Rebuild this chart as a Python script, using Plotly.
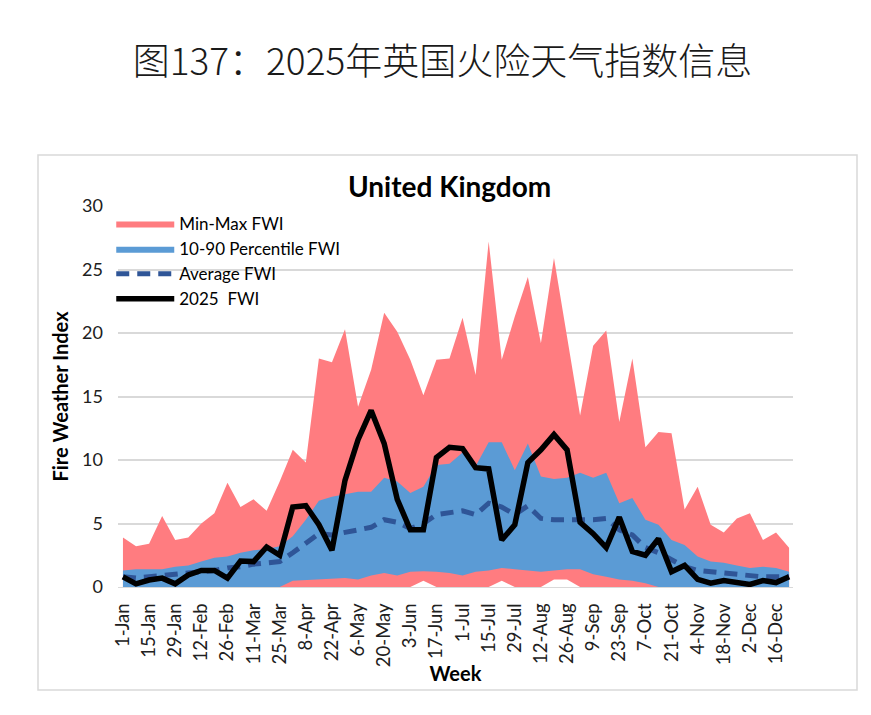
import plotly.graph_objects as go

weeks = ["1-Jan","8-Jan","15-Jan","22-Jan","29-Jan","5-Feb","12-Feb","19-Feb","26-Feb","4-Mar",
         "11-Mar","18-Mar","25-Mar","1-Apr","8-Apr","15-Apr","22-Apr","29-Apr","6-May","13-May",
         "20-May","27-May","3-Jun","10-Jun","17-Jun","24-Jun","1-Jul","8-Jul","15-Jul","22-Jul",
         "29-Jul","5-Aug","12-Aug","19-Aug","26-Aug","2-Sep","9-Sep","16-Sep","23-Sep","30-Sep",
         "7-Oct","14-Oct","21-Oct","28-Oct","4-Nov","11-Nov","18-Nov","25-Nov","2-Dec","9-Dec",
         "16-Dec","23-Dec"]

fwi_min = [0,0,0,0,0,0,0,0,0,0, 0,0,0,0,0,0,0,0,0,0, 0,0,0,0.5,0,0,0,0,0,0.5,
           0,0,0,0.6,0.6,0,0,0,0,0, 0,0,0,0,0,0,0,0,0,0, 0,0]
fwi_max = [3.9,3.2,3.4,5.6,3.7,3.9,5.0,5.8,8.2,6.3, 6.9,6.0,8.3,10.8,9.8,18.0,17.7,20.3,14.2,17.1,
           21.6,20.1,17.9,15.1,17.9,18.0,21.2,16.7,27.2,17.9, 21.3,24.4,19.2,25.9,19.7,13.5,19.0,20.2,13.0,18.0,
           11.0,12.2,12.1,6.1,7.9,4.9,4.3,5.4,5.8,3.7, 4.3,3.1]
p10 = [0,0,0,0,0,0,0,0,0,0, 0,0,0,0.5,0.55,0.55,0.6,0.7,0.6,0.9,
       1.1,0.9,1.2,1.25,1.2,1.1,0.9,1.2,1.3,1.5, 1.4,1.3,1.2,1.3,1.4,1.4,1.0,0.8,0.6,0.5,
       0.3,0,0,0,0,0,0,0,0,0, 0,0]
p90 = [1.3,1.4,1.4,1.4,1.6,1.7,2.0,2.3,2.4,2.7, 2.9,3.0,3.2,4.0,5.3,6.8,7.1,7.3,7.5,7.5,
       8.6,8.3,7.4,7.9,9.6,9.7,10.6,9.5,11.4,11.4, 9.2,11.3,8.7,8.5,8.6,9.0,8.6,9.0,6.6,7.0,
       5.3,4.9,3.7,3.3,2.4,2.0,1.9,1.7,1.5,1.6, 1.5,1.2]
avg = [0.8,0.7,0.8,0.9,1.0,1.1,1.2,1.3,1.5,1.6, 1.8,1.9,2.0,2.7,3.5,4.2,4.1,4.3,4.5,4.7,
       5.3,5.1,4.6,5.0,5.7,5.9,6.0,5.7,6.6,6.3, 5.7,6.4,5.4,5.3,5.3,5.3,5.3,5.4,4.5,4.1,
       3.1,2.7,2.1,1.6,1.3,1.2,1.1,1.0,0.9,0.8, 0.8,0.8]
fwi_2025 = [0.8,0.25,0.55,0.7,0.25,0.95,1.3,1.3,0.7,2.05, 2.0,3.15,2.5,6.3,6.4,4.9,2.9,8.4,11.6,13.9,
            11.3,6.9,4.5,4.5,10.2,11.0,10.9,9.4,9.3,3.7, 4.9,9.8,10.8,12.0,10.8,5.1,4.2,3.1,5.5,2.8,
            2.5,3.8,1.2,1.7,0.6,0.3,0.5,0.4,0.2,0.5, 0.35,0.8]

y_ticks = [0, 5, 10, 15, 20, 25, 30]

x = list(range(len(weeks)))
PINK = "#FF7C80"
BLUE = "#5B9BD5"
FONT = "Lato"

fig = go.Figure()
fig.add_trace(go.Scatter(x=x, y=fwi_min, mode="lines", line=dict(width=0, color=PINK),
                         showlegend=False, hoverinfo="skip"))
fig.add_trace(go.Scatter(x=x, y=fwi_max, mode="lines", line=dict(width=0, color=PINK),
                         fill="tonexty", fillcolor=PINK, name="Min-Max FWI"))
fig.add_trace(go.Scatter(x=x, y=p10, mode="lines", line=dict(width=0, color=BLUE),
                         showlegend=False, hoverinfo="skip"))
fig.add_trace(go.Scatter(x=x, y=p90, mode="lines", line=dict(width=0, color=BLUE),
                         fill="tonexty", fillcolor=BLUE, name="10-90 Percentile FWI"))
fig.add_trace(go.Scatter(x=x, y=avg, mode="lines", line=dict(width=5, color="#2F5597", dash="13px,8px"),
                         name="Average FWI"))
fig.add_trace(go.Scatter(x=x, y=fwi_2025, mode="lines", line=dict(width=5.5, color="#000000"),
                         name="2025  FWI"))

L, R, T, B = 118, 78, 206, 128
W, H = 871, 715
pw, ph = W - L - R, H - T - B

def px(xp):
    return (xp - L) / pw

def py(yp):
    return (H - B - yp) / ph

fig.update_layout(
    width=W, height=H,
    margin=dict(l=L, r=R, t=T, b=B),
    paper_bgcolor="white", plot_bgcolor="white",
    font=dict(family=FONT, color="#404040", size=17),
    title=dict(text="图137：2025年英国火险天气指数信息", x=0.508, y=1 - 62 / H,
               xref="container", yref="container", xanchor="center", yanchor="middle",
               font=dict(family="Noto Sans CJK SC", size=37, color="#1a1a1a", weight=300)),
    showlegend=True,
    legend=dict(x=-0.01, y=1.0, xanchor="left", yanchor="top", bgcolor="rgba(0,0,0,0)",
                font=dict(family=FONT, size=17, color="#000000"), itemwidth=58,
                tracegroupgap=0, traceorder="normal"),
    xaxis=dict(range=[-0.38, 51.3], tickmode="array", tickvals=x[::2], ticktext=weeks[::2],
               tickangle=-90, showgrid=False, zeroline=False, showline=True,
               linecolor="#D9D9D9", linewidth=1, ticks="", ticklabelstandoff=8,
               tickfont=dict(family=FONT, size=18.5, color="#202020"),
               title=dict(text="<b>Week</b>", standoff=0,
                          font=dict(family=FONT, size=20, color="#000000"))),
    yaxis=dict(range=[0, 30], tickmode="array", tickvals=y_ticks, showgrid=True,
               gridcolor="#D9D9D9", gridwidth=1.5, zeroline=False, showline=False,
               ticks="", ticklabelstandoff=14,
               tickfont=dict(family=FONT, size=18, color="#202020"),
               title=dict(text="<b>Fire Weather Index</b>", standoff=8,
                          font=dict(family=FONT, size=20, color="#000000"))),
    shapes=[dict(type="rect", xref="paper", yref="paper", x0=px(38), x1=px(857),
                 y0=py(690), y1=py(155), line=dict(color="#D9D9D9", width=1.5),
                 fillcolor="rgba(0,0,0,0)", layer="below")],
    annotations=[dict(text="<b>United Kingdom</b>", xref="paper", yref="paper",
                      x=px(449), y=py(186), xanchor="center", yanchor="middle",
                      showarrow=False, font=dict(family=FONT, size=28, color="#000000"))],
)

fig.write_html("out.html")
